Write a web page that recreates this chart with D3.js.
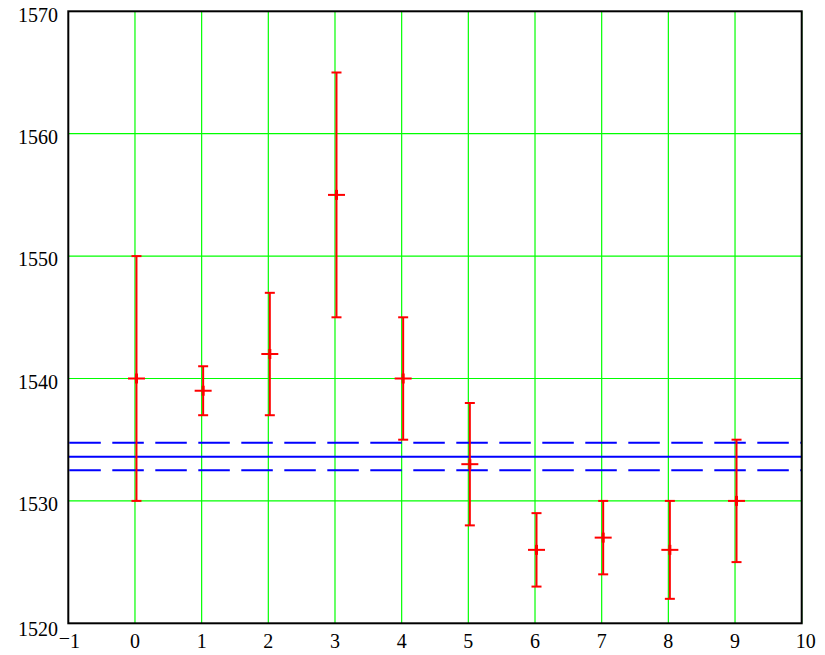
<!DOCTYPE html>
<html><head><meta charset="utf-8">
<script src="https://cdn.jsdelivr.net/npm/d3@7"></script>
<style>body{margin:0;background:#fff}svg{display:block}</style>
</head><body>
<script>
const xs = [0,1,2,3,4,5,6,7,8,9];
const means = [1540,1539,1542,1555,1540,1533,1526,1527,1526,1530];
const lows  = [1530,1537,1537,1545,1535,1528,1523,1524,1522,1525];
const highs = [1550,1541,1547,1565,1545,1538,1529,1530,1530,1535];
const overallMean = 1533.6;
const bandLow = 1532.5;
const bandHigh = 1534.75;
const xTicks = [-1,0,1,2,3,4,5,6,7,8,9,10];
const yTicks = [1520,1530,1540,1550,1560,1570];

const W=825,H=655;
const svg=d3.select("body").append("svg").attr("width",W).attr("height",H);
const x=d3.scaleLinear().domain([-1,10]).range([68.3,801.7]);
const y=d3.scaleLinear().domain([1520,1570]).range([623.3,11.3]);
const font="'Liberation Serif','Times New Roman',serif";

// grid
const g=svg.append("g");
g.selectAll(".gx").data(xTicks.filter(d=>d>-1)).join("line")
 .attr("x1",d=>x(d)).attr("x2",d=>x(d)).attr("y1",y(1570)).attr("y2",y(1520))
 .attr("stroke","#00ff00").attr("stroke-width",1.2);
g.selectAll(".gy").data(yTicks.filter(d=>d>1520&&d<1570)).join("line")
 .attr("x1",x(-1)).attr("x2",x(10)).attr("y1",d=>y(d)).attr("y2",d=>y(d))
 .attr("stroke","#00ff00").attr("stroke-width",1.2);

// blue lines
const bl=svg.append("g");
bl.append("line").attr("x1",x(-1)).attr("x2",x(10)).attr("y1",y(overallMean)).attr("y2",y(overallMean))
 .attr("stroke","#0000ff").attr("stroke-width",2);
[bandLow,bandHigh].forEach(v=>{
 bl.append("line").attr("x1",x(-1)+1).attr("x2",x(10)).attr("y1",y(v)).attr("y2",y(v))
  .attr("stroke","#0000ff").attr("stroke-width",2).attr("stroke-dasharray","31.5,11.5");
});

// error bars
const off=1.5;
const eb=svg.append("g").attr("stroke","#ff0000").attr("fill","none");
xs.forEach((d,i)=>{
 const cx=x(d)+off;
 eb.append("line").attr("x1",cx).attr("x2",cx).attr("y1",y(lows[i])).attr("y2",y(highs[i])).attr("stroke-width",2);
 [lows[i],highs[i]].forEach(v=>{
  eb.append("line").attr("x1",cx-5).attr("x2",cx+5).attr("y1",y(v)).attr("y2",y(v)).attr("stroke-width",2);
 });
 eb.append("line").attr("x1",cx-8.5).attr("x2",cx+8.5).attr("y1",y(means[i])).attr("y2",y(means[i])).attr("stroke-width",2);
 eb.append("line").attr("x1",cx).attr("x2",cx).attr("y1",y(means[i])-5).attr("y2",y(means[i])+5).attr("stroke-width",3);
});

// frame
svg.append("rect").attr("x",x(-1)).attr("y",y(1570)).attr("width",x(10)-x(-1)).attr("height",y(1520)-y(1570))
 .attr("fill","none").attr("stroke","#000").attr("stroke-width",2);

// y labels
svg.selectAll(".yl").data(yTicks).join("text")
 .attr("x",58).attr("y",d=>y(d)+(d===1570?4:d===1520?6:3))
 .attr("text-anchor","end").attr("dominant-baseline","central")
 .attr("font-family",font).attr("font-size",20).attr("fill","#000")
 .text(d=>d);

// x labels
const xl=svg.selectAll(".xl").data(xTicks).join("text")
 .attr("x",d=>x(d)+(d===10?4:d===-1?1:0)).attr("y",648)
 .attr("text-anchor","middle")
 .attr("font-family",font).attr("font-size",20).attr("fill","#000");
xl.each(function(d){
 const t=d3.select(this);
 if(d<0){
  t.append("tspan").attr("dy",-3).text("\u2212");
  t.append("tspan").attr("dy",3).text(Math.abs(d));
 } else t.text(d);
});
</script>
</body></html>
